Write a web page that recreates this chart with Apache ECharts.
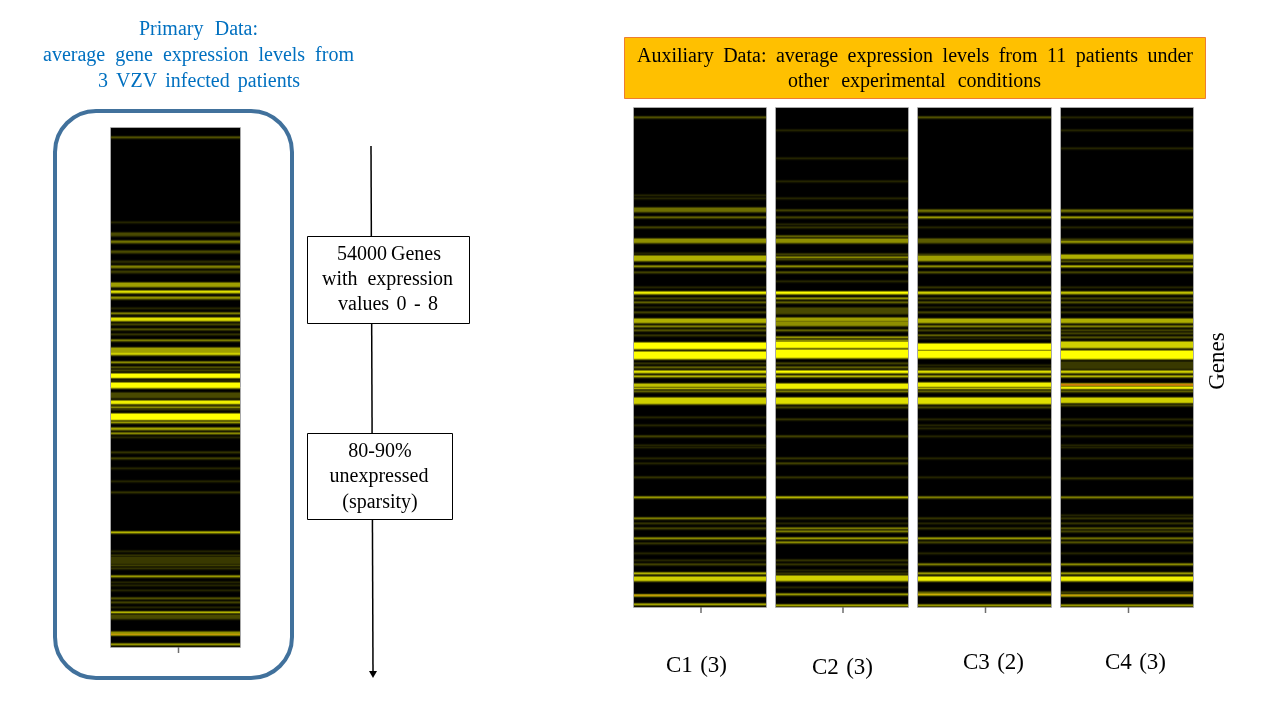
<!DOCTYPE html>
<html><head><meta charset="utf-8">
<style>html,body{margin:0;padding:0;background:#fff}#c{width:1280px;height:720px}</style>
<script src="https://cdn.jsdelivr.net/npm/echarts@6/dist/echarts.min.js"></script>
</head><body><div id="c"></div>
<script>
// Bands: [first gene bin, last gene bin, expression level]. Level 9 = saturated orange cells.
const primaryBins = 519, auxBins = 499;
const primaryBands = [[9,9,2.5],[94,94,1],[105,107,2],[113,114,3],[123,124,2],[133,134,1],[138,139,3.5],[143,144,1.5],[155,158,4.5],[163,164,6.5],[169,170,4],[180,180,1],[185,185,4],[190,192,6.5],[196,196,2],[201,201,2.5],[206,206,1.5],[212,212,4],[220,224,4.5],[225,226,6],[234,234,4.5],[239,239,2.5],[242,242,2],[246,249,8],[252,252,1],[255,259,8],[265,269,2],[273,275,7],[276,276,3],[279,279,4.5],[281,281,1.5],[286,291,8],[294,294,5],[300,301,4.5],[305,305,4.5],[309,309,1],[324,324,1.5],[330,330,2],[340,340,1],[353,353,1],[364,364,1.5],[404,404,6],[423,423,1],[427,427,1.5],[429,435,1.5],[437,437,2],[440,440,1.5],[448,448,5],[454,454,1],[457,457,1],[462,462,1],[470,470,2.5],[474,474,2],[479,479,1],[484,484,6],[487,490,2],[504,505,4],[506,506,8.7],[516,516,5]];
const c1Bands = [[9,9,2.5],[87,87,1],[90,90,1],[100,103,3],[109,109,3],[119,119,2],[131,134,4],[145,145,1],[148,152,5],[158,158,4.5],[164,164,2],[179,179,1],[184,185,7],[190,190,2],[194,194,3],[199,199,1],[204,204,2],[211,214,5],[218,218,4],[222,222,2.5],[227,227,1.5],[235,240,8],[244,250,8],[255,255,1.5],[259,259,3],[263,264,6.5],[268,268,6],[276,278,5.5],[280,280,6],[283,283,3],[290,295,6],[309,309,1],[317,317,1],[328,328,2],[337,337,1],[339,339,1],[350,350,1],[355,355,1],[369,369,1.5],[389,389,5],[410,410,4],[415,415,1.5],[420,420,2],[430,430,4.5],[435,435,1.5],[445,445,1],[452,452,1],[456,456,2],[465,465,6],[469,472,6],[487,487,8.7],[496,496,5.5]];
const c2Bands = [[22,22,1],[50,50,1],[73,73,1],[90,90,1],[102,102,2],[109,109,2],[116,116,1],[119,119,1.5],[128,128,3],[131,134,4],[146,146,2],[149,149,4.5],[151,151,2],[158,158,4.5],[164,164,2.5],[173,173,1],[184,185,8],[190,190,5],[194,194,3],[200,205,2],[210,212,4.5],[213,213,3],[214,217,4],[222,222,3],[229,229,5],[232,232,4],[234,239,8],[242,249,8],[255,255,2],[259,259,3],[263,264,8],[268,268,6],[276,280,7],[283,283,4],[290,295,6.5],[299,299,2],[311,311,1.5],[328,328,2],[350,350,1.5],[355,355,2],[369,369,1.5],[389,389,6],[410,410,1.5],[415,415,1],[420,420,4],[423,423,4],[430,430,5],[434,434,4.5],[452,452,1.5],[456,456,1.5],[462,462,1],[465,465,1.5],[468,472,6],[479,479,1],[486,486,5],[497,497,5.5]];
const c3Bands = [[9,9,2.5],[102,103,3],[109,109,5],[119,119,1],[131,134,2.5],[146,146,1.5],[148,152,4.5],[158,158,4.5],[164,164,2.5],[179,179,1.5],[184,185,6],[190,190,2],[194,194,2.5],[199,199,1],[204,204,2],[211,214,5],[218,218,4],[222,222,2],[227,227,3],[230,230,1],[236,241,8],[243,249,8],[257,257,1],[260,260,1.5],[263,264,6.5],[268,268,5.5],[275,278,7],[280,280,6],[283,283,3],[290,295,6.5],[299,299,2],[311,311,1],[317,317,1],[320,320,1],[328,328,1],[350,350,1],[369,369,1],[389,389,4],[410,410,1.5],[415,415,1],[420,420,1.5],[430,430,5],[434,434,2],[445,445,1],[456,456,4],[465,465,5],[469,472,7],[484,484,2.5],[486,486,8.5],[497,497,5]];
const c4Bands = [[9,9,1],[22,22,1],[40,40,1],[102,103,3],[109,109,5],[119,119,1],[131,131,1.5],[133,134,4],[147,150,5],[153,153,2.5],[158,158,6],[164,164,2],[179,179,1],[184,185,5.5],[190,190,2],[194,194,2.5],[199,199,1],[204,204,1.5],[211,214,5],[218,218,4],[222,222,2],[225,225,2],[229,229,2.5],[234,239,6],[243,250,8],[254,260,1.5],[263,264,6],[268,268,6],[276,277,9],[279,280,7],[283,283,3],[290,294,6],[297,297,2],[311,311,1],[317,317,1],[328,328,1],[337,337,1],[339,339,1],[350,350,1],[370,370,1.5],[389,389,4],[407,407,1],[410,410,1.5],[415,415,1.5],[420,420,2.5],[423,423,2],[430,430,3.5],[434,434,2.5],[445,445,1],[456,456,4.5],[465,465,5],[469,472,7],[484,484,2],[487,487,8.7],[497,497,5]];
const primaryName = ['Primary'];
const auxNames = ['C1 (3)','C2 (3)','C3 (2)','C4 (3)'];
const auxBands = [c1Bands,c2Bands,c3Bands,c4Bands];

const SERIF = '"Liberation Serif","Times New Roman",serif';
const FONT20 = '20px '+SERIF;
function rowCats(n){return Array.from({length:n},(_,i)=>i);}
function cells(bands,n){
  const lv=new Array(n).fill(0);
  bands.forEach(([a,b,v])=>{
    for(let r=a;r<=b;r++) lv[r]=Math.max(lv[r],v);
  });
  const out=lv.slice();
  // soften edges by one bin: the source is a resampled screenshot
  lv.forEach((v,r)=>{
    [r-1,r+1].forEach(q=>{ if(q>=0&&q<n) out[q]=Math.max(out[q],Math.min(v,8)*0.4); });
  });
  const d=[];
  out.forEach((v,r)=>{ if(v>0) d.push([0,r,v]); });
  return d;
}
const panels=[
  {name:primaryName[0],left:111,width:129,top:128,height:519,bins:primaryBins,bands:primaryBands},
  {name:auxNames[0],left:634,width:132,top:108,height:499,bins:auxBins,bands:auxBands[0]},
  {name:auxNames[1],left:776,width:132,top:108,height:499,bins:auxBins,bands:auxBands[1]},
  {name:auxNames[2],left:918,width:133,top:108,height:499,bins:auxBins,bands:auxBands[2]},
  {name:auxNames[3],left:1061,width:132,top:108,height:499,bins:auxBins,bands:auxBands[3]}
];
const grid=[],xAxis=[],yAxis=[],series=[];
panels.forEach((p,i)=>{
  grid.push({left:p.left,top:p.top,width:p.width,height:p.height,show:true,backgroundColor:'#000',borderWidth:0});
  xAxis.push({type:'category',gridIndex:i,data:[p.name],position:'bottom',
    axisLine:{show:false},axisTick:{show:false},axisLabel:{show:false},splitLine:{show:false}});
  yAxis.push({type:'category',gridIndex:i,inverse:true,data:rowCats(p.bins),show:false});
  series.push({type:'heatmap',xAxisIndex:i,yAxisIndex:i,data:cells(p.bands,p.bins),silent:true,progressive:0,animation:false,itemStyle:{borderWidth:0}});
});

// Measures words so each text line spans the same extent as in the source slide.
const mctx=document.createElement('canvas').getContext('2d');
function line(left,right,y,str,opt={}){
  const font=opt.font||FONT20, fill=opt.fill||'#000';
  mctx.font=font;
  const words=str.split(' ');
  const widths=words.map(w=>mctx.measureText(w).width);
  const total=widths.reduce((a,b)=>a+b,0);
  const gap=words.length>1?(right-left-total)/(words.length-1):0;
  let x=words.length>1?left:(left+right-total)/2; const out=[];
  words.forEach((w,i)=>{
    out.push({type:'text',x,y,z:20,style:{text:w,font,fill,textAlign:'left',textVerticalAlign:'middle'}});
    x+=widths[i]+gap;
  });
  return out;
}
const box=(x,y,w,h,fill,stroke,lw=1,r=0)=>({type:'rect',z:10,shape:{x,y,width:w,height:h,r},style:{fill,stroke,lineWidth:lw}});
const BLUE='#0070C0';
const tick=(x,y)=>({type:'line',z:15,shape:{x1:x,y1:y,x2:x,y2:y+6},style:{stroke:'#6e6e6e',lineWidth:1.5}});
const frames=panels.map(p=>({type:'rect',z:15,shape:{x:p.left-0.5,y:p.top-0.5,width:p.width+1,height:p.height+1},style:{fill:'none',stroke:'#a8a8a8',lineWidth:1}}));
const LABEL='23px '+SERIF;
const graphic=[
  box(55,111,237,567,'none','#41719C',4,41),
  {type:'line',z:5,shape:{x1:371,y1:146,x2:373,y2:672},style:{stroke:'#000',lineWidth:1.5}},
  {type:'polygon',z:5,shape:{points:[[369,671],[377,671],[373,678]]},style:{fill:'#000'}},
  box(307.5,236.5,162,87,'#fff','#000'),
  box(307.5,433.5,145,86,'#fff','#000'),
  box(624.5,37.5,581,61,'#FFC000','#ED7D31'),
  ...frames,
  tick(178.5,647),tick(701,607),tick(843,607),tick(985.5,607),tick(1128.5,607),
  ...line(139,258,30,'Primary Data:',{fill:BLUE}),
  ...line(43,354,56,'average gene expression levels from',{fill:BLUE}),
  ...line(98,300,82,'3 VZV infected patients',{fill:BLUE}),
  ...line(337,441,255,'54000 Genes'),
  ...line(322,453,280,'with expression'),
  ...line(338,438,305,'values 0 - 8'),
  ...line(345,415,452,'80-90%'),
  ...line(328,430,477,'unexpressed'),
  ...line(343,417,503,'(sparsity)'),
  ...line(637,1193,57,'Auxiliary Data: average expression levels from 11 patients under'),
  ...line(788,1041,82,'other experimental conditions'),
  ...line(666,727,666,auxNames[0],{font:LABEL}),
  ...line(812,873,668,auxNames[1],{font:LABEL}),
  ...line(963,1024,663,auxNames[2],{font:LABEL}),
  ...line(1105,1166,663,auxNames[3],{font:LABEL}),
  {type:'text',x:1218,y:361,rotation:Math.PI/2,z:20,style:{text:'Genes',font:LABEL,fill:'#000',textAlign:'center',textVerticalAlign:'middle'}}
];
const chart=echarts.init(document.getElementById('c'),null,{renderer:'canvas'});
chart.setOption({
  animation:false,backgroundColor:'#fff',
  tooltip:{show:false},
  grid,xAxis,yAxis,series,graphic,
  visualMap:{show:false,type:'continuous',min:0,max:9,seriesIndex:[0,1,2,3,4],
    inRange:{color:['#000000','#2a2a00','#4a4a00','#6f6f00','#8f8f00','#afaf00','#cfcf00','#efef00','#ffff00','#d0800a']}}
});
</script></body></html>
